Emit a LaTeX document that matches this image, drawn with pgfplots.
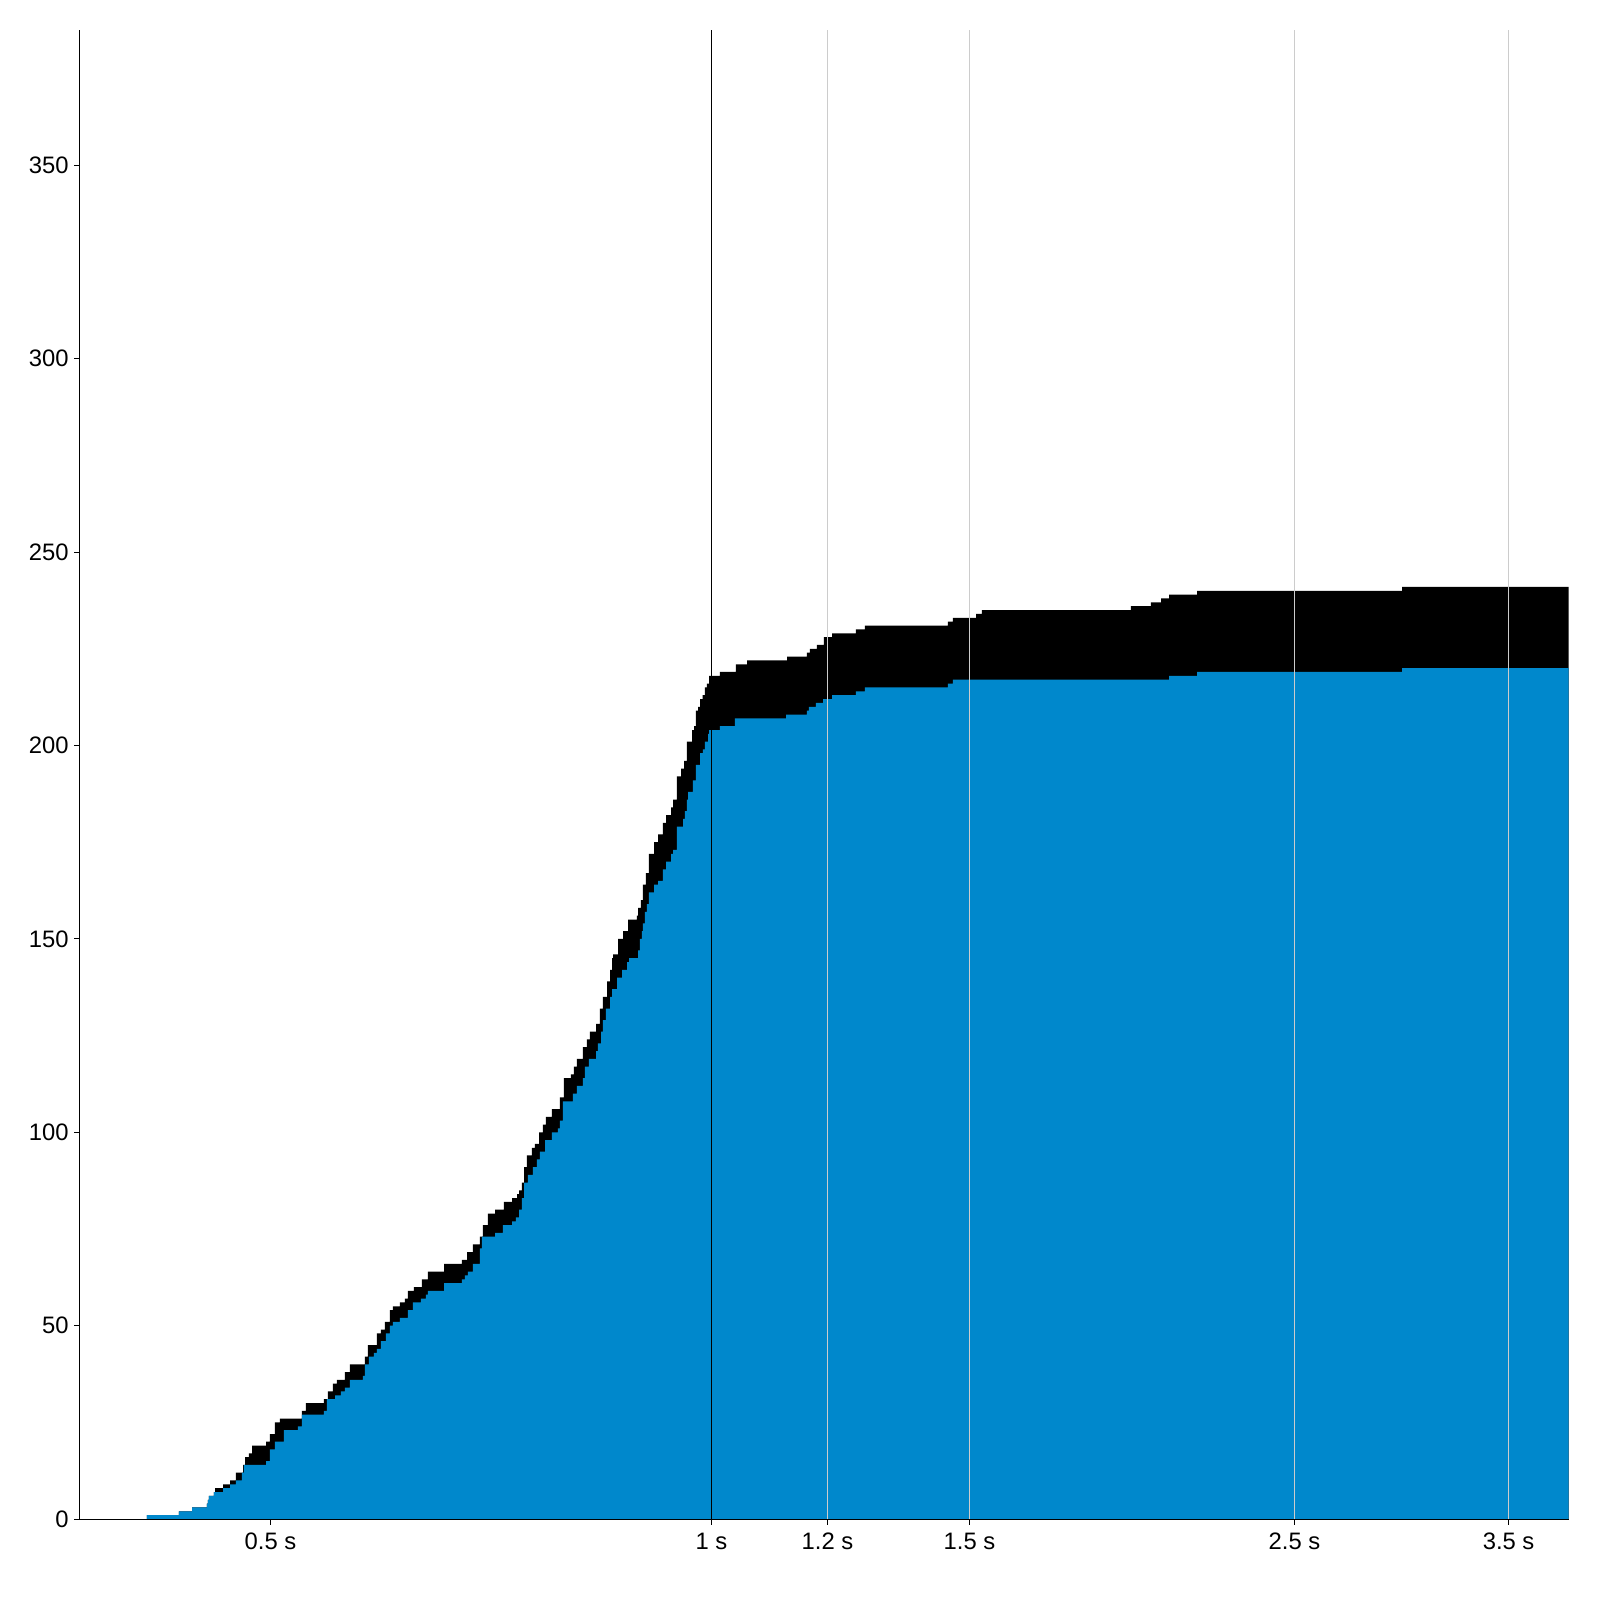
\documentclass[border=0pt]{standalone}
\usepackage{pgfplots}
\pgfplotsset{compat=1.18}
\usepackage{fontspec}
\setmainfont{Liberation Sans}
\definecolor{areablue}{RGB}{0,136,204}
\begin{document}
\fontsize{11.9pt}{14pt}\selectfont
\begin{tikzpicture}
\useasboundingbox (-39.75pt,-40.45pt) rectangle (760.25pt,759.55pt);
\begin{axis}[
  at={(0pt,0pt)}, anchor=south west,
  scale only axis, width=744.6pt, height=744.6pt,
  xmode=log, xmin=0.3704, xmax=3.847, ymin=0, ymax=385,
  axis x line*=bottom, axis y line*=left,
  axis line style={-, line width=0.5pt, black},
  tick pos=left, tick align=outside, major tick length=2.75pt,
  tick style={black, line width=0.5pt},
  xminorticks=false, yminorticks=false,
  xtick={0.5,1,1.2,1.5,2.5,3.5},
  xticklabels={0.5 s,1 s,1.2 s,1.5 s,2.5 s,3.5 s},
  ytick={0,50,100,150,200,250,300,350},
  /pgf/number format/assume math mode=true,
  yticklabel style={inner sep=2.5pt},
  axis on top,
]
% total (black)
\addplot[const plot, fill=black, draw=none] coordinates {
(0.4118,1) (0.4330,2) (0.4420,3) (0.4525,4) (0.4532,5) (0.4539,6) (0.4575,7)
(0.4583,8) (0.4641,9) (0.4692,10) (0.4736,12) (0.4789,14) (0.4804,16) (0.4834,17)
(0.4857,19) (0.4967,20) (0.4996,22) (0.5035,25) (0.5075,26) (0.5254,28) (0.5287,30)
(0.5438,31) (0.5473,33) (0.5516,35) (0.5551,36) (0.5621,38) (0.5665,40) (0.5800,42)
(0.5828,45) (0.5911,48) (0.5948,49) (0.5986,51) (0.6033,54) (0.6062,55) (0.6129,56)
(0.6177,57) (0.6206,59) (0.6265,60) (0.6344,62) (0.6404,64) (0.6568,66) (0.6756,67)
(0.6810,69) (0.6874,71) (0.6950,73) (0.6983,76) (0.7038,79) (0.7116,80) (0.7217,82)
(0.7309,83) (0.7367,84) (0.7390,85) (0.7425,87) (0.7448,91) (0.7483,94) (0.7542,96)
(0.7578,97) (0.7626,100) (0.7674,102) (0.7710,104) (0.7782,106) (0.7881,109) (0.7930,114)
(0.8018,115) (0.8056,117) (0.8094,119) (0.8171,122) (0.8222,124) (0.8261,126) (0.8340,128)
(0.8392,132) (0.8432,135) (0.8486,139) (0.8526,142) (0.8553,145) (0.8567,146) (0.8635,150)
(0.8703,152) (0.8772,155) (0.8895,156) (0.8909,158) (0.8951,160) (0.8979,164) (0.9021,167)
(0.9064,172) (0.9137,175) (0.9194,177) (0.9266,180) (0.9310,182) (0.9384,184) (0.9413,186)
(0.9472,192) (0.9532,194) (0.9577,196) (0.9622,201) (0.9698,204) (0.9729,205) (0.9759,209)
(0.9790,210) (0.9821,212) (0.9861,213) (0.9898,215) (0.9929,216) (0.9961,218) (1.0134,219)
(1.0392,221) (1.0574,222) (1.1261,223) (1.1619,224) (1.1674,225) (1.1803,226) (1.1933,228)
(1.2085,229) (1.2549,230) (1.2728,231) (1.4500,232) (1.4615,233) (1.5155,234) (1.5298,235)
(1.9336,236) (1.9953,237) (2.0269,238) (2.0526,239) (2.1449,240) (2.9604,241) (3.847,241)
} \closedcycle;
% blue
\addplot[const plot, fill=areablue, draw=none] coordinates {
(0.4118,1) (0.4330,2) (0.4420,3) (0.4525,4) (0.4532,5) (0.4539,6) (0.4575,7)
(0.4641,8) (0.4692,9) (0.4736,10) (0.4781,12) (0.4796,14) (0.4967,15) (0.4996,18)
(0.5035,20) (0.5107,23) (0.5221,24) (0.5254,27) (0.5438,28) (0.5464,31) (0.5534,32)
(0.5586,33) (0.5621,34) (0.5665,36) (0.5782,37) (0.5800,40) (0.5837,42) (0.5883,43)
(0.5911,44) (0.5948,46) (0.5995,48) (0.6033,50) (0.6062,51) (0.6129,52) (0.6206,54)
(0.6255,56) (0.6334,57) (0.6384,58) (0.6404,59) (0.6568,61) (0.6756,62) (0.6788,63)
(0.6820,64) (0.6874,66) (0.6950,70) (0.6972,73) (0.7116,74) (0.7206,76) (0.7309,77)
(0.7355,78) (0.7390,80) (0.7425,83) (0.7448,87) (0.7495,89) (0.7554,91) (0.7602,93)
(0.7638,95) (0.7698,98) (0.7782,100) (0.7856,101) (0.7881,103) (0.7918,108) (0.8043,110)
(0.8094,112) (0.8171,114) (0.8196,117) (0.8248,119) (0.8340,121) (0.8366,123) (0.8406,126)
(0.8432,129) (0.8472,132) (0.8526,135) (0.8553,137) (0.8621,140) (0.8689,142) (0.8758,144)
(0.8786,145) (0.8909,147) (0.8937,150) (0.8965,152) (0.8979,154) (0.9007,157) (0.9036,159)
(0.9064,162) (0.9137,164) (0.9194,165) (0.9266,168) (0.9310,170) (0.9384,172) (0.9413,173)
(0.9472,179) (0.9562,181) (0.9592,183) (0.9622,186) (0.9638,188) (0.9713,191) (0.9759,195)
(0.9821,198) (0.9867,199) (0.9898,201) (0.9945,203) (0.9961,204) (1.0134,205) (1.0376,207)
(1.1243,208) (1.1619,209) (1.1655,210) (1.1784,211) (1.1915,212) (1.2085,213) (1.2549,214)
(1.2728,215) (1.4500,216) (1.4615,217) (2.0526,218) (2.1449,219) (2.9604,220) (3.847,220)
} \closedcycle;
\draw[gray!40, line width=0.5pt] (axis cs:1.2,0) -- (axis cs:1.2,385);
\draw[gray!40, line width=0.5pt] (axis cs:1.5,0) -- (axis cs:1.5,385);
\draw[gray!40, line width=0.5pt] (axis cs:2.5,0) -- (axis cs:2.5,385);
\draw[gray!40, line width=0.5pt] (axis cs:3.5,0) -- (axis cs:3.5,385);
\draw[black, line width=0.5pt] (axis cs:1,0) -- (axis cs:1,385);
\end{axis}
\end{tikzpicture}
\end{document}
